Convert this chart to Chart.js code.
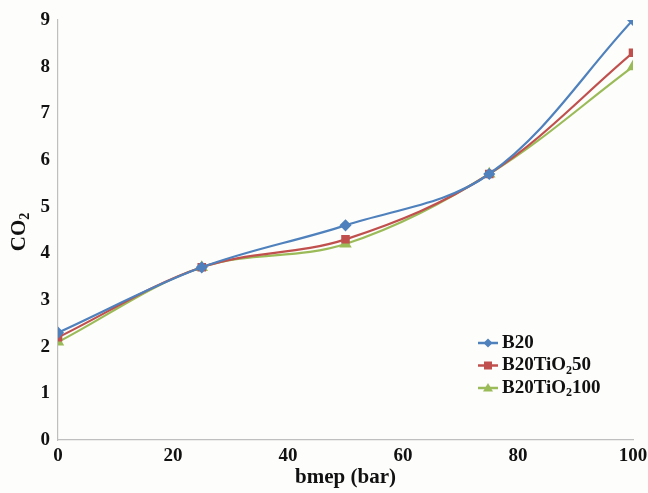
<!DOCTYPE html>
<html>
<head>
<meta charset="utf-8">
<script src="https://cdn.jsdelivr.net/npm/chart.js@4.4.0/dist/chart.umd.min.js"></script>
<style>
  html, body { margin: 0; padding: 0; background: #fdfdfb; }
  #wrap { width: 648px; height: 493px; }
</style>
</head>
<body>
<div id="wrap"><canvas id="chart" width="648" height="493"></canvas></div>
<script>
// data
const bmep = [0, 25, 50, 75, 100];
const b20 = [2.3, 3.7, 4.6, 5.7, 9.0];
const b20TiO2_50 = [2.2, 3.7, 4.3, 5.7, 8.3];
const b20TiO2_100 = [2.1, 3.7, 4.2, 5.7, 8.0];

// legend names split into [text, subscript, text]
const seriesNames = [["B20"], ["B20TiO", "2", "50"], ["B20TiO", "2", "100"]];
const xTitle = "bmep (bar)";
const yTitle = ["CO", "2"];

const FONT = "'Liberation Serif', 'Times New Roman', serif";
const colors = ["#4f81bd", "#c0504d", "#9bbb59"];
const styles = ["rectRot", "rect", "triangle"];

function toPoints(ys) {
    return ys.map((y, i) => ({ x: bmep[i], y: y }));
}

// draws "text / sub / text" pieces
function drawParts(ctx, parts, x, y, size) {
    parts.forEach((p, i) => {
        const sub = i % 2 === 1;
        ctx.font = "bold " + (sub ? Math.round(size * 0.65) : size) + "px " + FONT;
        ctx.fillText(p, x, y + (sub ? size * 0.28 : 0));
        x += ctx.measureText(p).width;
    });
    return x;
}

function partsWidth(ctx, parts, size) {
    let w = 0;
    parts.forEach((p, i) => {
        const sub = i % 2 === 1;
        ctx.font = "bold " + (sub ? Math.round(size * 0.65) : size) + "px " + FONT;
        w += ctx.measureText(p).width;
    });
    return w;
}

function drawMarker(ctx, style, x, y, color) {
    ctx.fillStyle = color;
    ctx.beginPath();
    if (style === "rectRot") {
        ctx.moveTo(x, y - 4.5); ctx.lineTo(x + 4.5, y); ctx.lineTo(x, y + 4.5); ctx.lineTo(x - 4.5, y);
    } else if (style === "rect") {
        ctx.rect(x - 4, y - 4, 8, 8);
    } else {
        ctx.moveTo(x, y - 5); ctx.lineTo(x + 5, y + 3.5); ctx.lineTo(x - 5, y + 3.5);
    }
    ctx.closePath();
    ctx.fill();
}

const extras = {
    id: "extras",
    afterDraw(chart) {
        const ctx = chart.ctx;
        ctx.save();
        ctx.fillStyle = "#111";
        ctx.textBaseline = "middle";

        // y axis title, rotated
        const ySize = 21;
        ctx.translate(20, 232);
        ctx.rotate(-Math.PI / 2);
        const w = partsWidth(ctx, yTitle, ySize);
        drawParts(ctx, yTitle, -w / 2, 0, ySize);
        ctx.restore();

        // legend inside the plot
        ctx.save();
        ctx.textBaseline = "middle";
        const lx = 478, ly = 343, gap = 22.5;
        seriesNames.forEach((name, i) => {
            const y = ly + i * gap;
            ctx.strokeStyle = colors[i];
            ctx.lineWidth = 2.5;
            ctx.beginPath();
            ctx.moveTo(lx, y);
            ctx.lineTo(lx + 20, y);
            ctx.stroke();
            drawMarker(ctx, styles[i], lx + 10, y, colors[i]);
            ctx.fillStyle = "#111";
            drawParts(ctx, name, lx + 24, y, 19);
        });
        ctx.restore();
    }
};

function makeSet(label, ys, i) {
    return {
        label: label,
        data: toPoints(ys),
        borderColor: colors[i],
        backgroundColor: colors[i],
        borderWidth: 2.2,
        pointStyle: styles[i],
        pointRadius: i === 2 ? 5 : 4.5,
        tension: 0.35
    };
}

const ctx = document.getElementById("chart");

new Chart(ctx, {
    type: "line",
    data: {
        datasets: [
            makeSet("B20", b20, 0),
            makeSet("B20TiO250", b20TiO2_50, 1),
            makeSet("B20TiO2100", b20TiO2_100, 2)
        ]
    },
    options: {
        responsive: false,
        animation: false,
        layout: { padding: { left: 0, right: 0, top: 20, bottom: 3 } },
        plugins: {
            legend: { display: false },
            tooltip: { enabled: false }
        },
        scales: {
            x: {
                type: "linear",
                min: 0,
                max: 100,
                ticks: {
                    stepSize: 20,
                    color: "#111",
                    padding: 5,
                    font: { family: FONT, size: 19, weight: "bold" }
                },
                grid: { drawOnChartArea: false, drawTicks: false },
                border: { color: "#bfbfbf", width: 1.2 },
                title: {
                    display: true,
                    text: xTitle,
                    color: "#111",
                    padding: { top: 0, bottom: 0 },
                    font: { family: FONT, size: 21, weight: "bold" }
                },
                afterFit(scale) {
                    scale.height = 50;
                    scale.paddingLeft = 0;
                    scale.paddingRight = 15;
                }
            },
            y: {
                min: 0,
                max: 9,
                ticks: {
                    stepSize: 1,
                    color: "#111",
                    padding: 8,
                    font: { family: FONT, size: 19, weight: "bold" }
                },
                grid: { drawOnChartArea: false, drawTicks: false },
                border: { color: "#bfbfbf", width: 1.2 },
                afterFit(scale) {
                    scale.width = 58;
                    scale.paddingTop = 0;
                    scale.paddingBottom = 0;
                }
            }
        }
    },
    plugins: [extras]
});
</script>
</body>
</html>
